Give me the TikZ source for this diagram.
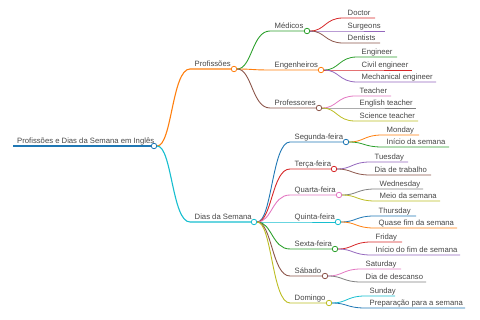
\documentclass[tikz,border=0pt]{standalone}
\usepackage{fontspec}
\setmainfont{Liberation Sans}
\definecolor{mmblue}{HTML}{1F77B4}
\definecolor{mmorange}{HTML}{FF7F0E}
\definecolor{mmgreen}{HTML}{2CA02C}
\definecolor{mmred}{HTML}{D62728}
\definecolor{mmpurple}{HTML}{9467BD}
\definecolor{mmbrown}{HTML}{8C564B}
\definecolor{mmpink}{HTML}{E377C2}
\definecolor{mmgray}{HTML}{7F7F7F}
\definecolor{mmolive}{HTML}{BCBD22}
\definecolor{mmcyan}{HTML}{17BECF}
\definecolor{textgray}{HTML}{464646}

\begin{document}
\begin{tikzpicture}[x=1pt,y=-1pt,dot/.style={circle, draw, fill=white, inner sep=0pt, minimum size=5.5pt, line width=0.8pt},lbl/.style={anchor=base west, inner sep=0pt, text=textgray, font=\fontsize{7.7}{9}\selectfont},trunk/.style={line width=1.5pt},branch/.style={line width=1.1pt},twig/.style={line width=0.9pt},leaf/.style={line width=0.8pt}]
\useasboundingbox (0,0) rectangle (480,320);
% root
\coordinate (rootL) at (13,146); \node[dot, draw=mmblue] (root) at (154,146) {};
\draw[trunk, mmblue] (rootL) -- (root);
\node[lbl] (rootT) at ([shift={(4,-2.5)}]rootL) {Profissões e Dias da Semana em Inglês};
% first level
\coordinate (profL) at (190,69); \node[dot, draw=mmorange] (prof) at (234,69) {};
\coordinate (diasL) at (190,222); \node[dot, draw=mmcyan] (dias) at (254,222) {};
\draw[branch, mmorange] (root) .. controls +(18,0) and +(-18,0) .. (profL) -- (prof);
\draw[branch, mmcyan] (root) .. controls +(18,0) and +(-18,0) .. (diasL) -- (dias);
\node[lbl] (profT) at ([shift={(4.5,-2.5)}]profL) {Profissões};
\node[lbl] (diasT) at ([shift={(4.5,-2.5)}]diasL) {Dias da Semana};
% professions
\coordinate (medL) at (270,31); \node[dot, draw=mmgreen] (med) at (307,31) {};
\coordinate (engL) at (270,70); \node[dot, draw=mmorange] (eng) at (321,70) {};
\coordinate (profsL) at (270,108); \node[dot, draw=mmbrown] (profs) at (319,108) {};
\draw[twig, mmgreen] (prof) .. controls +(18,0) and +(-18,0) .. (medL) -- (med);
\draw[twig, mmorange] (prof) .. controls +(18,0) and +(-18,0) .. (engL) -- (eng);
\draw[twig, mmbrown] (prof) .. controls +(18,0) and +(-18,0) .. (profsL) -- (profs);
\node[lbl] (medT) at ([shift={(4.5,-2.5)}]medL) {Médicos};
\node[lbl] (engT) at ([shift={(4.5,-2.5)}]engL) {Engenheiros};
\node[lbl] (profsT) at ([shift={(4.5,-2.5)}]profsL) {Professores};
% medicos
\coordinate (docL) at (343,18); \coordinate (docR) at (375,18);
\coordinate (surL) at (343,31); \coordinate (surR) at (385,31);
\coordinate (denL) at (343,43); \coordinate (denR) at (380,43);
\draw[leaf, mmred] (med) .. controls +(18,0) and +(-18,0) .. (docL) -- (docR);
\draw[leaf, mmpurple] (med) .. controls +(18,0) and +(-18,0) .. (surL) -- (surR);
\draw[leaf, mmbrown] (med) .. controls +(18,0) and +(-18,0) .. (denL) -- (denR);
\node[lbl] (docT) at ([shift={(4.5,-2.5)}]docL) {Doctor};
\node[lbl] (surT) at ([shift={(4.5,-2.5)}]surL) {Surgeons};
\node[lbl] (denT) at ([shift={(4.5,-2.5)}]denL) {Dentists};
% engenheiros
\coordinate (enL) at (357,57); \coordinate (enR) at (397,57);
\coordinate (civL) at (357,70); \coordinate (civR) at (412,70);
\coordinate (mecL) at (357,82); \coordinate (mecR) at (436,82);
\draw[leaf, mmgreen] (eng) .. controls +(18,0) and +(-18,0) .. (enL) -- (enR);
\draw[leaf, mmred] (eng) .. controls +(18,0) and +(-18,0) .. (civL) -- (civR);
\draw[leaf, mmpurple] (eng) .. controls +(18,0) and +(-18,0) .. (mecL) -- (mecR);
\node[lbl] (enT) at ([shift={(4.5,-2.5)}]enL) {Engineer};
\node[lbl] (civT) at ([shift={(4.5,-2.5)}]civL) {Civil engineer};
\node[lbl] (mecT) at ([shift={(4.5,-2.5)}]mecL) {Mechanical engineer};
% professores
\coordinate (teaL) at (355,96); \coordinate (teaR) at (391,96);
\coordinate (engtL) at (355,108); \coordinate (engtR) at (416,108);
\coordinate (scitL) at (355,121); \coordinate (scitR) at (418,121);
\draw[leaf, mmpink] (profs) .. controls +(18,0) and +(-18,0) .. (teaL) -- (teaR);
\draw[leaf, mmgray] (profs) .. controls +(18,0) and +(-18,0) .. (engtL) -- (engtR);
\draw[leaf, mmolive] (profs) .. controls +(18,0) and +(-18,0) .. (scitL) -- (scitR);
\node[lbl] (teaT) at ([shift={(4.5,-2.5)}]teaL) {Teacher};
\node[lbl] (engtT) at ([shift={(4.5,-2.5)}]engtL) {English teacher};
\node[lbl] (scitT) at ([shift={(4.5,-2.5)}]scitL) {Science teacher};
% dias
\coordinate (segL) at (290,142); \node[dot, draw=mmblue] (seg) at (346,142) {};
\coordinate (terL) at (290,169); \node[dot, draw=mmred] (ter) at (334,169) {};
\coordinate (quaL) at (290,195); \node[dot, draw=mmpink] (qua) at (339,195) {};
\coordinate (quiL) at (290,222); \node[dot, draw=mmcyan] (qui) at (338,222) {};
\coordinate (sexL) at (290,249); \node[dot, draw=mmgreen] (sex) at (335,249) {};
\coordinate (sabL) at (290,276); \node[dot, draw=mmbrown] (sab) at (325,276) {};
\coordinate (domL) at (290,303); \node[dot, draw=mmolive] (dom) at (329,303) {};
\draw[twig, mmblue] (dias) .. controls +(18,0) and +(-18,0) .. (segL) -- (seg);
\draw[twig, mmred] (dias) .. controls +(18,0) and +(-18,0) .. (terL) -- (ter);
\draw[twig, mmpink] (dias) .. controls +(18,0) and +(-18,0) .. (quaL) -- (qua);
\draw[twig, mmcyan] (dias) -- (quiL) -- (qui);
\draw[twig, mmgreen] (dias) .. controls +(18,0) and +(-18,0) .. (sexL) -- (sex);
\draw[twig, mmbrown] (dias) .. controls +(18,0) and +(-18,0) .. (sabL) -- (sab);
\draw[twig, mmolive] (dias) .. controls +(18,0) and +(-18,0) .. (domL) -- (dom);
\node[lbl] (segT) at ([shift={(4.5,-2.5)}]segL) {Segunda-feira};
\node[lbl] (terT) at ([shift={(4.5,-2.5)}]terL) {Terça-feira};
\node[lbl] (quaT) at ([shift={(4.5,-2.5)}]quaL) {Quarta-feira};
\node[lbl] (quiT) at ([shift={(4.5,-2.5)}]quiL) {Quinta-feira};
\node[lbl] (sexT) at ([shift={(4.5,-2.5)}]sexL) {Sexta-feira};
\node[lbl] (sabT) at ([shift={(4.5,-2.5)}]sabL) {Sábado};
\node[lbl] (domT) at ([shift={(4.5,-2.5)}]domL) {Domingo};
% segunda
\coordinate (monL) at (382,135); \coordinate (monR) at (419,135);
\coordinate (iniL) at (382,147); \coordinate (iniR) at (449,147);
\draw[leaf, mmorange] (seg) .. controls +(18,0) and +(-18,0) .. (monL) -- (monR);
\draw[leaf, mmgreen] (seg) .. controls +(18,0) and +(-18,0) .. (iniL) -- (iniR);
\node[lbl] (monT) at ([shift={(4.5,-2.5)}]monL) {Monday};
\node[lbl] (iniT) at ([shift={(4.5,-2.5)}]iniL) {Início da semana};
% terca
\coordinate (tueL) at (370,162); \coordinate (tueR) at (408,162);
\coordinate (trabL) at (370,175); \coordinate (trabR) at (431,175);
\draw[leaf, mmpurple] (ter) .. controls +(18,0) and +(-18,0) .. (tueL) -- (tueR);
\draw[leaf, mmbrown] (ter) .. controls +(18,0) and +(-18,0) .. (trabL) -- (trabR);
\node[lbl] (tueT) at ([shift={(4.5,-2.5)}]tueL) {Tuesday};
\node[lbl] (trabT) at ([shift={(4.5,-2.5)}]trabL) {Dia de trabalho};
% quarta
\coordinate (wedL) at (375,189); \coordinate (wedR) at (423,189);
\coordinate (meioL) at (375,201); \coordinate (meioR) at (440,201);
\draw[leaf, mmgray] (qua) .. controls +(18,0) and +(-18,0) .. (wedL) -- (wedR);
\draw[leaf, mmolive] (qua) .. controls +(18,0) and +(-18,0) .. (meioL) -- (meioR);
\node[lbl] (wedT) at ([shift={(4.5,-2.5)}]wedL) {Wednesday};
\node[lbl] (meioT) at ([shift={(4.5,-2.5)}]meioL) {Meio da semana};
% quinta
\coordinate (thuL) at (374,216); \coordinate (thuR) at (416,216);
\coordinate (quaseL) at (374,228); \coordinate (quaseR) at (457,228);
\draw[leaf, mmblue] (qui) .. controls +(18,0) and +(-18,0) .. (thuL) -- (thuR);
\draw[leaf, mmorange] (qui) .. controls +(18,0) and +(-18,0) .. (quaseL) -- (quaseR);
\node[lbl] (thuT) at ([shift={(4.5,-2.5)}]thuL) {Thursday};
\node[lbl] (quaseT) at ([shift={(4.5,-2.5)}]quaseL) {Quase fim da semana};
% sexta
\coordinate (friL) at (371,242); \coordinate (friR) at (402,242);
\coordinate (inifL) at (371,255); \coordinate (inifR) at (460,255);
\draw[leaf, mmred] (sex) .. controls +(18,0) and +(-18,0) .. (friL) -- (friR);
\draw[leaf, mmpurple] (sex) .. controls +(18,0) and +(-18,0) .. (inifL) -- (inifR);
\node[lbl] (friT) at ([shift={(4.5,-2.5)}]friL) {Friday};
\node[lbl] (inifT) at ([shift={(4.5,-2.5)}]inifL) {Início do fim de semana};
% sabado
\coordinate (satL) at (361,269); \coordinate (satR) at (401,269);
\coordinate (descL) at (361,282); \coordinate (descR) at (426,282);
\draw[leaf, mmpink] (sab) .. controls +(18,0) and +(-18,0) .. (satL) -- (satR);
\draw[leaf, mmgray] (sab) .. controls +(18,0) and +(-18,0) .. (descL) -- (descR);
\node[lbl] (satT) at ([shift={(4.5,-2.5)}]satL) {Saturday};
\node[lbl] (descT) at ([shift={(4.5,-2.5)}]descL) {Dia de descanso};
% domingo
\coordinate (sunL) at (365,296); \coordinate (sunR) at (395,296);
\coordinate (prepL) at (365,308); \coordinate (prepR) at (465,308);
\draw[leaf, mmcyan] (dom) .. controls +(18,0) and +(-18,0) .. (sunL) -- (sunR);
\draw[leaf, mmblue] (dom) .. controls +(18,0) and +(-18,0) .. (prepL) -- (prepR);
\node[lbl] (sunT) at ([shift={(4.5,-2.5)}]sunL) {Sunday};
\node[lbl] (prepT) at ([shift={(4.5,-2.5)}]prepL) {Preparação para a semana};
\end{tikzpicture}
\end{document}
